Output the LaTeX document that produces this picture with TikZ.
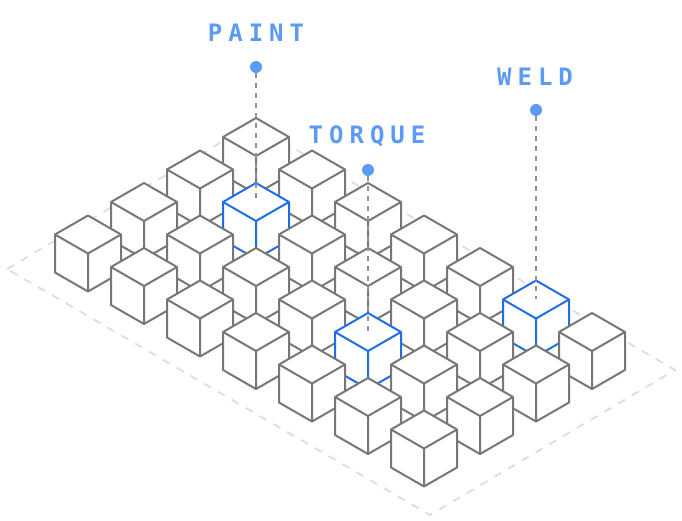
\documentclass[tikz,border=0pt]{standalone}
\usepackage{fontspec}
\newfontfamily\lblfont[LetterSpace=25]{DejaVu Sans Mono}
\definecolor{edge}{HTML}{777777}
\definecolor{hl}{HTML}{1F6FE0}
\definecolor{lbl}{HTML}{5B9BF5}
\definecolor{plate}{HTML}{DDDDDD}
\begin{document}
\begin{tikzpicture}[x=1pt,y=-1pt,
  cube/.style={draw=#1,line width=2pt,line join=round,fill=white},
  leader/.style={draw=gray!85,line width=1.8pt,dash pattern=on 5pt off 5pt},
  lab/.style={text=lbl,font=\lblfont\bfseries\fontsize{24}{24}\selectfont,inner sep=0pt},
  dot/.style={circle,fill=lbl,minimum size=12pt,inner sep=0pt}]
\useasboundingbox (0,0) rectangle (682,521);
\draw[plate,line width=1.8pt,dash pattern=on 8pt off 8pt] (7,269) -- (252,124) -- (675,370) -- (430,515) -- cycle;
\foreach \s in {0,...,9}{
  \foreach \r in {0,...,3}{
    \pgfmathtruncatemacro\c{\s-\r}
    \ifnum\c>-1 \ifnum\c<7
      \pgfmathsetmacro\x{256+56*(\c-\r)}
      \pgfmathsetmacro\y{118+32.5*(\c+\r)}
      \def\col{edge}
      \ifnum\r=1 \ifnum\c=1 \def\col{hl}\fi\fi
      \ifnum\r=2 \ifnum\c=4 \def\col{hl}\fi\fi
      \ifnum\r=0 \ifnum\c=5 \def\col{hl}\fi\fi
      \begin{scope}[shift={(\x,\y)}]
        \draw[cube=\col] (0,0) -- (33,19) -- (33,57) -- (0,76) -- (-33,57) -- (-33,19) -- cycle;
        \draw[cube=\col,fill=none] (-33,19) -- (0,38) -- (33,19) (0,38) -- (0,76);
      \end{scope}
    \fi\fi
  }
}
\coordinate (pe) at (256,202);
\coordinate (te) at (368,332);
\coordinate (we) at (536,299);
\node[dot] (pd) at (256,67) {};
\node[dot] (td) at (368,170) {};
\node[dot] (wd) at (536,110) {};
\draw[leader] (pd) -- (pe);
\draw[leader] (td) -- (te);
\draw[leader] (wd) -- (we);
\node[lab] (pl) at (256,33) {PAINT};
\node[lab] (tl) at (367,136) {TORQUE};
\node[lab] (wl) at (535,77) {WELD};
\end{tikzpicture}
\end{document}
